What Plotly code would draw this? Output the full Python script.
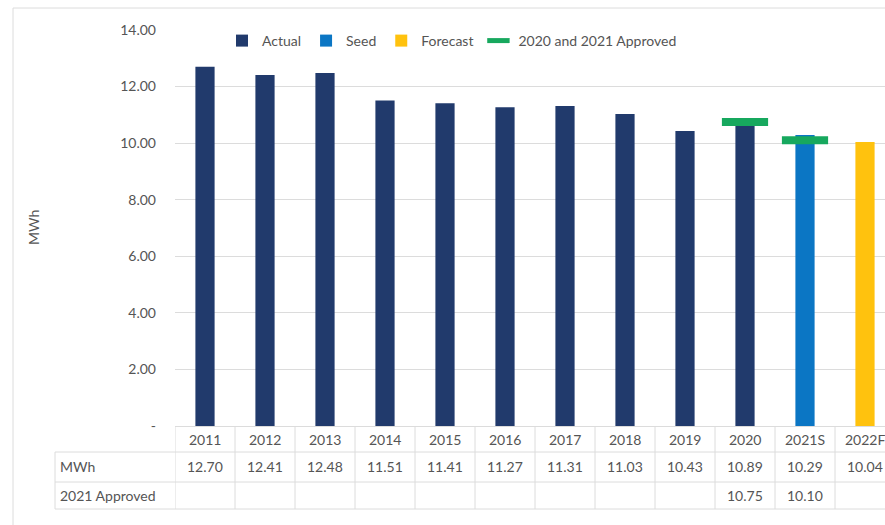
import plotly.graph_objects as go

# Categories and series
years = ["2011", "2012", "2013", "2014", "2015", "2016", "2017", "2018", "2019", "2020", "2021S", "2022F"]
mwh = [12.70, 12.41, 12.48, 11.51, 11.41, 11.27, 11.31, 11.03, 10.43, 10.89, 10.29, 10.04]
approved = [None, None, None, None, None, None, None, None, None, 10.75, 10.10, None]
kind = ["Actual"] * 10 + ["Seed", "Forecast"]

y_ticks = [0, 2, 4, 6, 8, 10, 12, 14]
y_ticktext = ["-", "2.00", "4.00", "6.00", "8.00", "10.00", "12.00", "14.00"]

colors = {"Actual": "#213a6c", "Seed": "#0b76c4", "Forecast": "#ffc20e"}
GREEN = "#17a85e"
GRID = "#dcdcdc"
TEXT = "#555555"
FONT = "Lato"
FS = 14

fig = go.Figure()
for name in ["Actual", "Seed", "Forecast"]:
    fig.add_trace(go.Bar(
        x=years,
        y=[v if k == name else None for v, k in zip(mwh, kind)],
        name=name,
        marker=dict(color=colors[name], line=dict(width=0)),
        width=0.32,
    ))

fig.add_trace(go.Scatter(
    x=years, y=approved, mode="markers", name="2020 and 2021 Approved",
    marker=dict(symbol="line-ew-open", size=33, color=GREEN, line=dict(color=GREEN, width=8)),
))

# Layout geometry (pixels)
L, T, B = 175, 30, 99
W, H = 885, 525
plot_w = W - L
plot_h = H - T - B
col_px = 60.0
x_max = -0.5 + plot_w / col_px


def py(p):
    """pixel row -> paper y"""
    return (H - B - p) / plot_h


def px(p):
    """pixel column -> paper x"""
    return (p - L) / plot_w


shapes = []
# data table grid: column separators
for i in range(len(years) + 1):
    shapes.append(dict(type="line", xref="x", yref="paper", x0=i - 0.5, x1=i - 0.5,
                       y0=py(426), y1=py(509), line=dict(color=GRID, width=1)))
# table rows
for row_y, x_start in [(452, 55), (482, 55), (509, 55)]:
    shapes.append(dict(type="line", xref="paper", yref="paper", x0=px(x_start), x1=1.05,
                       y0=py(row_y), y1=py(row_y), line=dict(color=GRID, width=1)))
shapes.append(dict(type="line", xref="paper", yref="paper", x0=px(55), x1=px(55),
                   y0=py(452), y1=py(509), line=dict(color=GRID, width=1)))
# chart frame
shapes.append(dict(type="line", xref="paper", yref="paper", x0=px(13), x1=1.05,
                   y0=py(8), y1=py(8), line=dict(color=GRID, width=1)))
shapes.append(dict(type="line", xref="paper", yref="paper", x0=px(13), x1=px(13),
                   y0=py(8), y1=py(530), line=dict(color=GRID, width=1)))

# data table text (category axis positions are category indices)
annotations = []
tfont = dict(family=FONT, size=FS, color=TEXT)
for i, (yr, v, a) in enumerate(zip(years, mwh, approved)):
    annotations.append(dict(x=i, y=py(439), xref="x", yref="paper", text=yr,
                            showarrow=False, font=tfont, xanchor="center", yanchor="middle"))
    annotations.append(dict(x=i, y=py(466), xref="x", yref="paper", text=f"{v:.2f}",
                            showarrow=False, font=tfont, xanchor="center", yanchor="middle"))
    if a is not None:
        annotations.append(dict(x=i, y=py(495), xref="x", yref="paper", text=f"{a:.2f}",
                                showarrow=False, font=tfont, xanchor="center", yanchor="middle"))
annotations.append(dict(x=px(58), y=py(466), xref="paper", yref="paper", text="MWh",
                        showarrow=False, font=tfont, xanchor="left", yanchor="middle"))
annotations.append(dict(x=px(58), y=py(495), xref="paper", yref="paper", text="2021 Approved",
                        showarrow=False, font=tfont, xanchor="left", yanchor="middle"))
annotations.append(dict(x=px(33), y=0.5, xref="paper", yref="paper", text="MWh",
                        showarrow=False, font=tfont,
                        textangle=-90, xanchor="center", yanchor="middle"))

fig.update_layout(
    width=W, height=H,
    margin=dict(l=L, r=0, t=T, b=B, autoexpand=False),
    paper_bgcolor="white", plot_bgcolor="white",
    barmode="overlay",
    font=dict(family=FONT, color=TEXT, size=FS),
    showlegend=True,
    legend=dict(orientation="h", x=px(222), y=py(25), xanchor="left", yanchor="top",
                font=dict(family=FONT, size=FS, color=TEXT), itemwidth=30,
                bgcolor="rgba(0,0,0,0)", tracegroupgap=0),
    xaxis=dict(type="category", categoryorder="array", categoryarray=years,
               range=[-0.5, x_max], showticklabels=False, showgrid=False,
               showline=True, linecolor=GRID, linewidth=1, ticks="", fixedrange=True),
    yaxis=dict(range=[0, 14], tickvals=y_ticks, ticktext=y_ticktext,
               showgrid=True, gridcolor=GRID, gridwidth=1, zeroline=False,
               ticks="", ticklabelstandoff=18, fixedrange=True,
               tickfont=tfont),
    shapes=shapes,
    annotations=annotations,
)

fig.write_html("out.html")
